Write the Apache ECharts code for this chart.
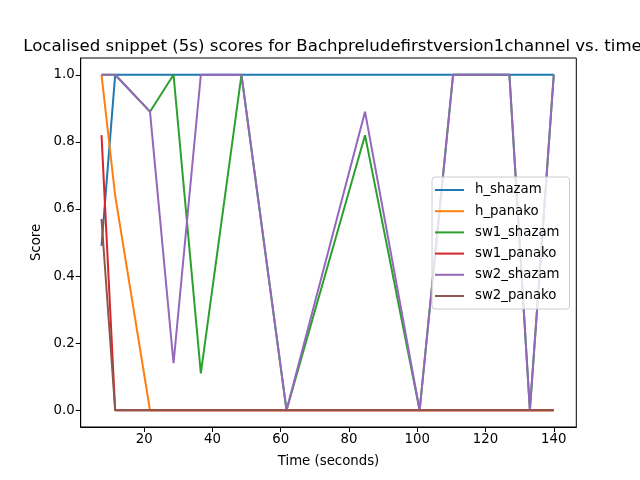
<!DOCTYPE html>
<html>
<head>
<meta charset="utf-8">
<script src="https://cdn.jsdelivr.net/npm/echarts@6/dist/echarts.min.js"></script>
<style>
  html, body { margin: 0; padding: 0; background: #fff; }
  #main { width: 640px; height: 480px; }
</style>
</head>
<body>
<div id="main"></div>
<script>
// snippet times (seconds)
var times = [7.5, 11.5, 21.7, 28.6, 36.6, 48.5, 61.7, 84.7, 100.7, 110.5, 127, 133, 140];

var h_shazam   = [0.49, 1, 1, 1, 1, 1, 1, 1, 1, 1, 1, 1, 1];
var h_panako   = [1, 0.64, 0, 0, 0, 0, 0, 0, 0, 0, 0, 0, 0];
var sw1_shazam = [1, 1, 0.89, 1, 0.11, 1, 0, 0.82, 0, 1, 1, 0, 1];
var sw1_panako = [0.82, 0, 0, 0, 0, 0, 0, 0, 0, 0, 0, 0, 0];
var sw2_shazam = [1, 1, 0.89, 0.14, 1, 1, 0, 0.89, 0, 1, 1, 0, 1];
var sw2_panako = [0.57, 0, 0, 0, 0, 0, 0, 0, 0, 0, 0, 0, 0];

var xTicks = [20, 40, 60, 80, 100, 120, 140];
var yTicks = [0, 0.2, 0.4, 0.6, 0.8, 1.0];

var seriesNames = ['h_shazam', 'h_panako', 'sw1_shazam', 'sw1_panako', 'sw2_shazam', 'sw2_panako'];
var seriesValues = [h_shazam, h_panako, sw1_shazam, sw1_panako, sw2_shazam, sw2_panako];
var colors = ['#1f77b4', '#ff7f0e', '#2ca02c', '#d62728', '#9467bd', '#8c564b'];

function pairs(ys) {
  return times.map(function (t, i) { return [t, ys[i]]; });
}

var font = 'DejaVu Sans';
var myChart = echarts.init(document.getElementById('main'));
myChart.setOption({
  animation: false,
  color: colors,
  title: {
    text: 'Localised snippet (5s) scores for Bachpreludefirstversion1channel vs. time',
    left: 327.5,
    textAlign: 'center',
    top: 33,
    textStyle: { fontFamily: font, fontSize: 16.6, fontWeight: 'normal', color: '#000' }
  },
  grid: {
    left: 80.7, right: 63.7, top: 58, bottom: 53,
    show: true, borderColor: '#000', borderWidth: 1, backgroundColor: 'transparent'
  },
  legend: {
    orient: 'vertical',
    left: 432, top: 177,
    width: 137,
    padding: [5, 10, 5, 3],
    itemWidth: 29, itemHeight: 2, itemGap: 5.2,
    icon: 'rect',
    backgroundColor: 'rgba(255,255,255,0.8)',
    borderColor: '#cccccc', borderWidth: 1, borderRadius: 3,
    textStyle: { fontFamily: font, fontSize: 13.3, color: '#000', lineHeight: 16, padding: [0, 0, 0, 6] },
    data: seriesNames
  },
  xAxis: {
    type: 'value',
    min: 1.4, max: 146.6,
    name: 'Time (seconds)',
    nameLocation: 'middle',
    nameGap: 28,
    nameTextStyle: { fontFamily: font, fontSize: 13.3, color: '#000' },
    axisLine: { show: true, onZero: false, lineStyle: { color: '#000', width: 1 } },
    axisTick: { show: true, length: 5, lineStyle: { color: '#000' }, customValues: xTicks },
    axisLabel: { fontFamily: font, fontSize: 13.3, color: '#000', margin: 6, customValues: xTicks },
    splitLine: { show: false }
  },
  yAxis: {
    type: 'value',
    min: -0.05, max: 1.05,
    name: 'Score',
    nameLocation: 'middle',
    nameGap: 38,
    nameTextStyle: { fontFamily: font, fontSize: 13.3, color: '#000' },
    axisLine: { show: true, onZero: false, lineStyle: { color: '#000', width: 1 } },
    axisTick: { show: true, length: 5, lineStyle: { color: '#000' }, customValues: yTicks },
    axisLabel: {
      fontFamily: font, fontSize: 13.3, color: '#000', margin: 6, customValues: yTicks,
      formatter: function (v) { return v.toFixed(1); }
    },
    splitLine: { show: false }
  },
  series: seriesNames.map(function (name, i) {
    return {
      name: name,
      type: 'line',
      data: pairs(seriesValues[i]),
      showSymbol: false,
      symbol: 'none',
      lineStyle: { width: 2, color: colors[i] },
      itemStyle: { color: colors[i] }
    };
  })
});
</script>
</body>
</html>
